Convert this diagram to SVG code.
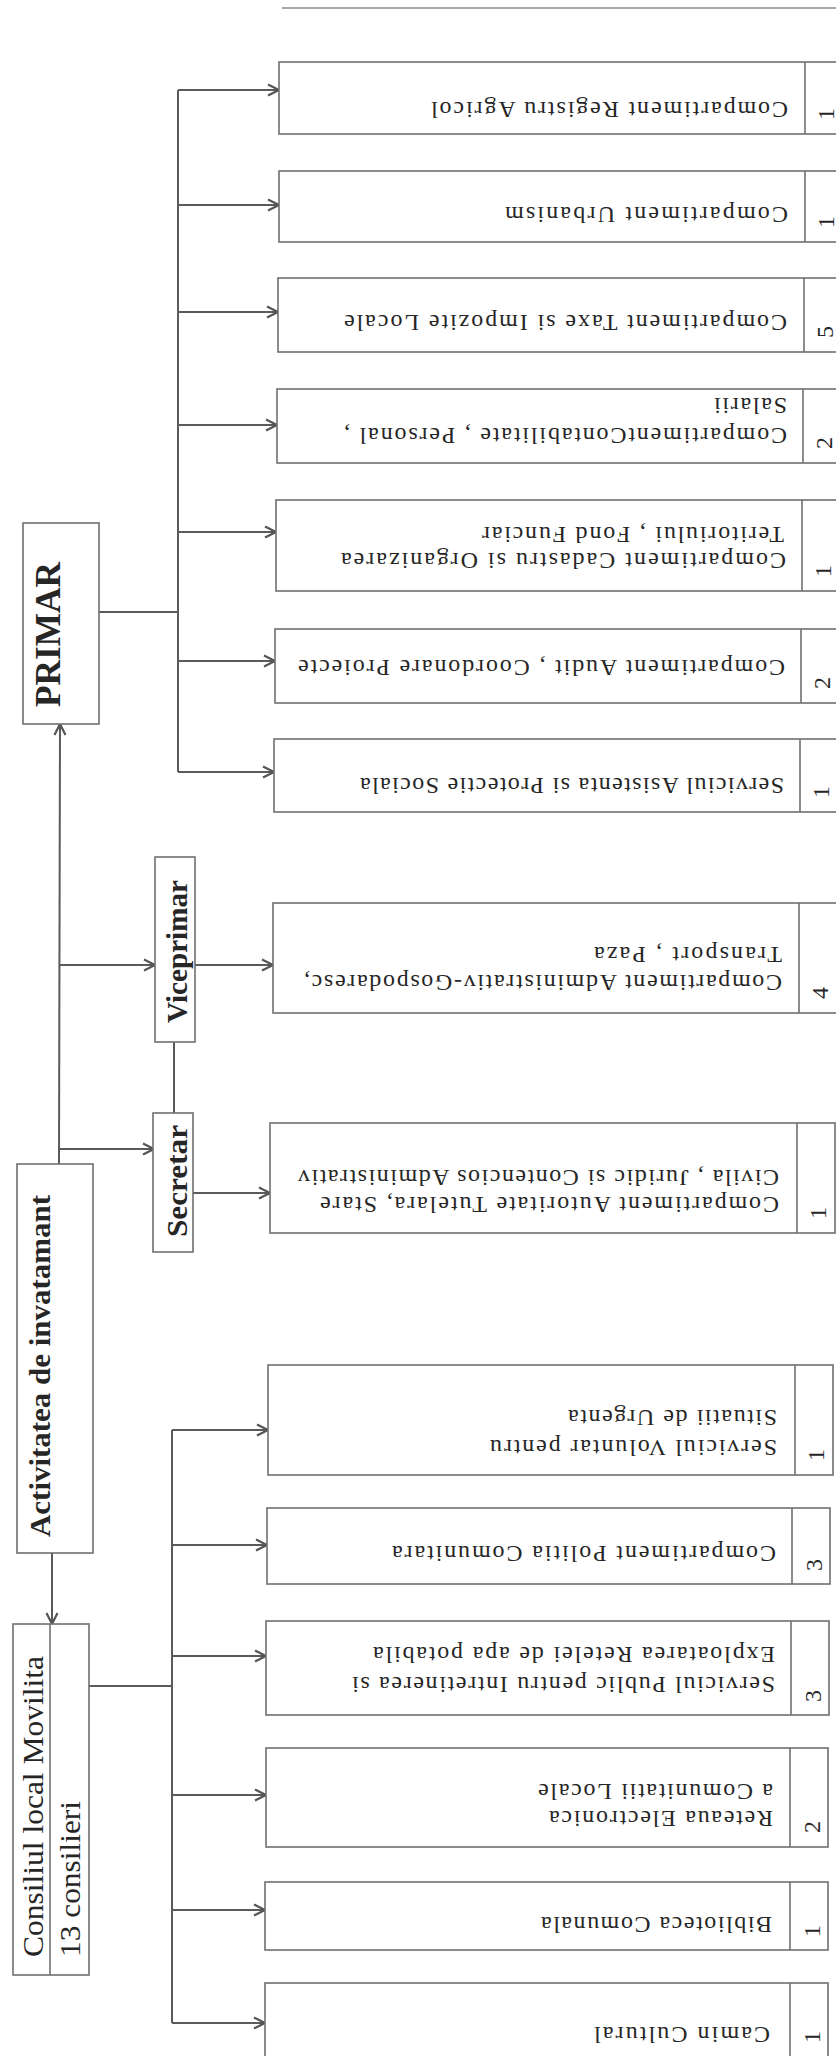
<svg xmlns="http://www.w3.org/2000/svg" width="836" height="2056" viewBox="0 0 836 2056">
<style>
.bg{fill:#ffffff}
.box{fill:#ffffff;stroke:#707070;stroke-width:1.6}
.div{stroke:#707070;stroke-width:1.6;fill:none}
.ln{stroke:#5a5a5a;stroke-width:2;fill:none}
.ar{stroke:#5a5a5a;stroke-width:2;fill:none;marker-end:url(#ah)}
.t{font-family:"Liberation Serif","Times New Roman",serif;font-size:24px;fill:#262626}
.n{font-family:"Liberation Serif","Times New Roman",serif;font-size:24px;fill:#262626}
.lb{font-family:"Liberation Serif","Times New Roman",serif;font-weight:bold;fill:#262626}
.lr{font-family:"Liberation Serif","Times New Roman",serif;fill:#262626}
</style>
<defs>
<marker id="ah" markerUnits="userSpaceOnUse" viewBox="0 0 12 12" markerWidth="12" markerHeight="12" refX="11" refY="6" orient="auto" overflow="visible">
<path d="M0,0.5 L11,6 L0,11.5" fill="none" stroke="#555" stroke-width="2.2"/>
</marker>
</defs>
<rect class="bg" x="0" y="0" width="836" height="2056"/>
<line x1="282" y1="8" x2="836" y2="8" stroke="#8a8a8a" stroke-width="1.6"/>

<g id="connectors">
<polyline class="ln" points="99,612 178,612"/>
<line class="ln" x1="178" y1="90" x2="178" y2="772"/>
<line class="ar" x1="178" y1="90" x2="279" y2="90"/>
<line class="ar" x1="178" y1="205" x2="279" y2="205"/>
<line class="ar" x1="178" y1="312" x2="278" y2="312"/>
<line class="ar" x1="178" y1="425" x2="277" y2="425"/>
<line class="ar" x1="178" y1="532" x2="276" y2="532"/>
<line class="ar" x1="178" y1="661" x2="275" y2="661"/>
<line class="ar" x1="178" y1="772" x2="274" y2="772"/>
<line class="ar" x1="59" y1="1164" x2="60" y2="724"/>
<line class="ar" x1="59" y1="965" x2="155" y2="965"/>
<line class="ar" x1="58" y1="1149" x2="154" y2="1149"/>
<line class="ar" x1="195" y1="965" x2="273" y2="965"/>
<line class="ln" x1="174" y1="1042" x2="174" y2="1113"/>
<line class="ar" x1="193" y1="1193" x2="270" y2="1193"/>
<line class="ar" x1="52" y1="1553" x2="52" y2="1624"/>
<line class="ln" x1="89" y1="1686" x2="172" y2="1686"/>
<line class="ln" x1="172" y1="1430" x2="172" y2="2023"/>
<line class="ar" x1="172" y1="1430" x2="268" y2="1430"/>
<line class="ar" x1="172" y1="1545" x2="267" y2="1545"/>
<line class="ar" x1="172" y1="1656" x2="266" y2="1656"/>
<line class="ar" x1="172" y1="1795" x2="266" y2="1795"/>
<line class="ar" x1="172" y1="1910" x2="265" y2="1910"/>
<line class="ar" x1="172" y1="2023" x2="265" y2="2023"/>
</g>

<g id="primar">
<rect class="box" x="23" y="523" width="76" height="201"/>
<text class="lb" font-size="35" transform="translate(60,707) rotate(-90)" textLength="145" lengthAdjust="spacingAndGlyphs">PRIMAR</text>
</g>

<g id="viceprimar">
<rect class="box" x="155" y="857" width="40" height="185"/>
<text class="lb" font-size="29" transform="translate(187,1023) rotate(-90)" textLength="143" lengthAdjust="spacingAndGlyphs">Viceprimar</text>
</g>

<g id="secretar">
<rect class="box" x="153" y="1113" width="40" height="139"/>
<text class="lb" font-size="29" transform="translate(187,1237) rotate(-90)" textLength="112" lengthAdjust="spacingAndGlyphs">Secretar</text>
</g>

<g id="activitatea">
<rect class="box" x="17" y="1164" width="76" height="389"/>
<text class="lb" font-size="30" transform="translate(50,1537) rotate(-90)" textLength="342" lengthAdjust="spacingAndGlyphs">Activitatea de invatamant</text>
</g>

<g id="consiliul">
<rect class="box" x="13" y="1624" width="76" height="351"/>
<line class="div" x1="50" y1="1624" x2="50" y2="1975"/>
<text class="lr" font-size="30" transform="translate(43,1957) rotate(-90)" textLength="301" lengthAdjust="spacingAndGlyphs">Consiliul local Movilita</text>
<text class="lr" font-size="30" transform="translate(80,1957) rotate(-90)" textLength="156" lengthAdjust="spacingAndGlyphs">13 consilieri</text>
</g>

<g id="registru-agricol">
<rect class="box" x="279" y="62" width="564" height="72"/>
<line class="div" x1="805" y1="62" x2="805" y2="134"/>
<text class="t" transform="translate(788,102) rotate(180)" textLength="357" lengthAdjust="spacing">Compartiment Registru Agricol</text>
<text class="n" transform="translate(834,120) rotate(-90)">1</text>
</g>

<g id="urbanism">
<rect class="box" x="279" y="171" width="564" height="71"/>
<line class="div" x1="805" y1="171" x2="805" y2="242"/>
<text class="t" transform="translate(788,207) rotate(180)" textLength="283" lengthAdjust="spacing">Compartiment Urbanism</text>
<text class="n" transform="translate(834,228) rotate(-90)">1</text>
</g>

<g id="taxe">
<rect class="box" x="278" y="278" width="564" height="74"/>
<line class="div" x1="804" y1="278" x2="804" y2="352"/>
<text class="t" transform="translate(787,315) rotate(180)" textLength="443" lengthAdjust="spacing">Compartiment Taxe  si Impozite Locale</text>
<text class="n" transform="translate(833,338) rotate(-90)">5</text>
</g>

<g id="contabilitate">
<rect class="box" x="277" y="389" width="564" height="74"/>
<line class="div" x1="803" y1="389" x2="803" y2="463"/>
<text class="t" transform="translate(787,428) rotate(180)" textLength="443" lengthAdjust="spacing">CompartimentContabilitate , Personal ,</text>
<text class="t" transform="translate(787,398) rotate(180)" textLength="73" lengthAdjust="spacing">Salarii</text>
<text class="n" transform="translate(832,449) rotate(-90)">2</text>
</g>

<g id="cadastru">
<rect class="box" x="276" y="500" width="564" height="91"/>
<line class="div" x1="802" y1="500" x2="802" y2="591"/>
<text class="t" transform="translate(786,553) rotate(180)" textLength="445" lengthAdjust="spacing">Compartiment Cadastru si Organizarea</text>
<text class="t" transform="translate(784,527) rotate(180)" textLength="302" lengthAdjust="spacing">Teritoriului , Fond Funciar</text>
<text class="n" transform="translate(831,577) rotate(-90)">1</text>
</g>

<g id="audit">
<rect class="box" x="275" y="629" width="564" height="74"/>
<line class="div" x1="801" y1="629" x2="801" y2="703"/>
<text class="t" transform="translate(785,660) rotate(180)" textLength="487" lengthAdjust="spacing">Compartiment Audit , Coordonare Proiecte</text>
<text class="n" transform="translate(830,689) rotate(-90)">2</text>
</g>

<g id="asistenta">
<rect class="box" x="274" y="739" width="564" height="73"/>
<line class="div" x1="800" y1="739" x2="800" y2="812"/>
<text class="t" transform="translate(784,778) rotate(180)" textLength="424" lengthAdjust="spacing">Serviciul Asistenta si Protectie Sociala</text>
<text class="n" transform="translate(829,798) rotate(-90)">1</text>
</g>

<g id="administrativ">
<rect class="box" x="273" y="903" width="564" height="110"/>
<line class="div" x1="799" y1="903" x2="799" y2="1013"/>
<text class="t" transform="translate(782,975) rotate(180)" textLength="478" lengthAdjust="spacing">Compartiment Administrativ-Gospodaresc,</text>
<text class="t" transform="translate(782,947) rotate(180)" textLength="188" lengthAdjust="spacing">Transport , Paza</text>
<text class="n" transform="translate(828,999) rotate(-90)">4</text>
</g>

<g id="tutelara">
<rect class="box" x="270" y="1123" width="565" height="110"/>
<line class="div" x1="797" y1="1123" x2="797" y2="1233"/>
<text class="t" transform="translate(779,1197) rotate(180)" textLength="459" lengthAdjust="spacing">Compartiment Autoritate Tutelara, Stare</text>
<text class="t" transform="translate(779,1170) rotate(180)" textLength="481" lengthAdjust="spacing">Civila , Juridic si Contencios Administrativ</text>
<text class="n" transform="translate(826,1219) rotate(-90)">1</text>
</g>

<g id="voluntar">
<rect class="box" x="268" y="1365" width="565" height="110"/>
<line class="div" x1="795" y1="1365" x2="795" y2="1475"/>
<text class="t" transform="translate(777,1440) rotate(180)" textLength="287" lengthAdjust="spacing">Serviciul Voluntar pentru</text>
<text class="t" transform="translate(777,1410) rotate(180)" textLength="209" lengthAdjust="spacing">Situatii de Urgenta</text>
<text class="n" transform="translate(824,1461) rotate(-90)">1</text>
</g>

<g id="politia">
<rect class="box" x="267" y="1508" width="563" height="76"/>
<line class="div" x1="792" y1="1508" x2="792" y2="1584"/>
<text class="t" transform="translate(776,1546) rotate(180)" textLength="384" lengthAdjust="spacing">Compartiment Politia Comunitara</text>
<text class="n" transform="translate(822,1571) rotate(-90)">3</text>
</g>

<g id="serviciul-public">
<rect class="box" x="266" y="1621" width="563" height="94"/>
<line class="div" x1="791" y1="1621" x2="791" y2="1715"/>
<text class="t" transform="translate(775,1677) rotate(180)" textLength="423" lengthAdjust="spacing">Serviciul Public pentru Intretinerea si</text>
<text class="t" transform="translate(775,1647) rotate(180)" textLength="402" lengthAdjust="spacing">Exploatarea  Retelei de apa potabila</text>
<text class="n" transform="translate(821,1702) rotate(-90)">3</text>
</g>

<g id="reteaua">
<rect class="box" x="266" y="1748" width="562" height="99"/>
<line class="div" x1="790" y1="1748" x2="790" y2="1847"/>
<text class="t" transform="translate(773,1811) rotate(180)" textLength="224" lengthAdjust="spacing">Reteaua Electronica</text>
<text class="t" transform="translate(773,1784) rotate(180)" textLength="235" lengthAdjust="spacing">a Comunitatii Locale</text>
<text class="n" transform="translate(820,1833) rotate(-90)">2</text>
</g>

<g id="biblioteca">
<rect class="box" x="265" y="1882" width="563" height="68"/>
<line class="div" x1="790" y1="1882" x2="790" y2="1950"/>
<text class="t" transform="translate(772,1917) rotate(180)" textLength="231" lengthAdjust="spacing">Biblioteca Comunala</text>
<text class="n" transform="translate(820,1937) rotate(-90)">1</text>
</g>

<g id="camin">
<rect class="box" x="265" y="1983" width="563" height="90"/>
<line class="div" x1="790" y1="1983" x2="790" y2="2073"/>
<text class="t" transform="translate(770,2027) rotate(180)" textLength="176" lengthAdjust="spacing">Camin Cultural</text>
<text class="n" transform="translate(820,2043) rotate(-90)">1</text>
</g>
</svg>
